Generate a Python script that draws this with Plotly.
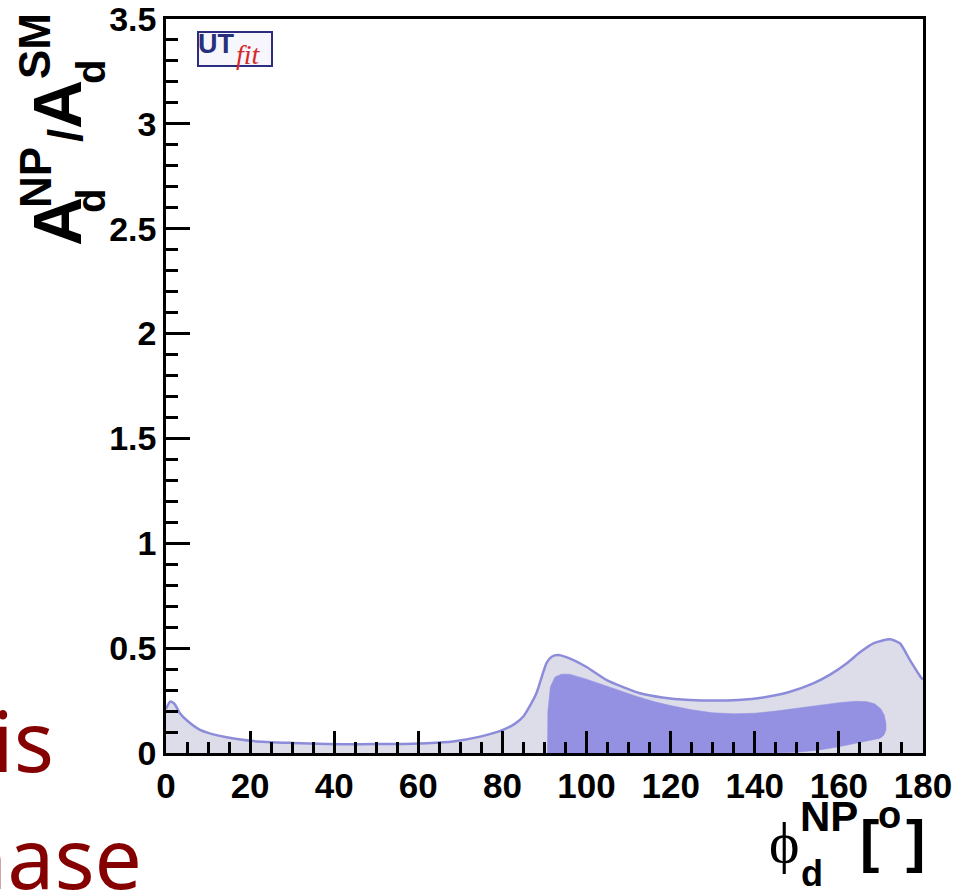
import plotly.graph_objects as go

# ---- data ----
light_phi = [0, 1, 2, 3.3, 5, 8.1, 11, 14.4, 20.7, 30, 38.2, 46, 54, 62, 68.2, 74.7,
             80.1, 83, 84.9, 86.5, 88.1, 90.5, 91.8, 93.3, 96.9, 100, 104.8, 112.7, 118,
             124.6, 130.1, 136, 142, 148, 153.9, 158, 161.9, 165, 168.2, 172.2, 174.5,
             176.9, 179.4, 180]
light_val = [0.21, 0.245, 0.235, 0.19, 0.155, 0.11, 0.09, 0.075, 0.057, 0.048, 0.043,
             0.042, 0.043, 0.047, 0.055, 0.078, 0.11, 0.14, 0.173, 0.224, 0.286, 0.43,
             0.46, 0.467, 0.443, 0.41, 0.348, 0.285, 0.265, 0.253, 0.25, 0.253, 0.265,
             0.29, 0.332, 0.375, 0.428, 0.48, 0.523, 0.542, 0.523, 0.443, 0.364, 0.35]

dark_top_phi = [90.7, 90.8, 91.4, 92.5, 94, 96, 100, 104, 108, 112, 116, 120, 125, 130,
                135, 140, 145, 150, 155, 160, 164, 166.5, 168.5, 170, 170.8, 171.2]
dark_top_val = [0.0, 0.2, 0.316, 0.362, 0.376, 0.376, 0.352, 0.325, 0.295, 0.27, 0.245,
                0.226, 0.206, 0.192, 0.187, 0.19, 0.2, 0.213, 0.228, 0.24, 0.247, 0.245,
                0.235, 0.21, 0.18, 0.14]
dark_bot_phi = [171.2, 170.7, 169.8, 165, 160, 155, 150, 145, 120, 95, 91.5, 90.7]
dark_bot_val = [0.11, 0.085, 0.07, 0.05, 0.03, 0.013, 0.004, 0.0, 0.0, 0.0, 0.0, 0.0]

x_ticks = [0, 20, 40, 60, 80, 100, 120, 140, 160, 180]
y_ticks = [0, 0.5, 1, 1.5, 2, 2.5, 3, 3.5]

# ---- layout geometry (pixels) ----
W, H = 957, 895
L, R, T, B = 166, 923, 19, 753


def fx(px):
    return px / W


def fy(py):
    return (H - py) / H


LIGHT_FILL = "rgb(221,221,233)"
LIGHT_LINE = "rgb(140,140,218)"
DARK_FILL = "rgb(148,144,226)"
SANS = "Liberation Sans, Arial, Helvetica, sans-serif"
SERIF = "Liberation Serif, Times New Roman, serif"
SLIDE_RED = "#850000"

fig = go.Figure()
fig.add_trace(go.Scatter(
    x=light_phi, y=light_val, mode="lines", fill="tozeroy",
    fillcolor=LIGHT_FILL, line=dict(color=LIGHT_LINE, width=2.5, shape="spline",
                                    smoothing=0.6),
    hoverinfo="skip", showlegend=False))
fig.add_trace(go.Scatter(
    x=dark_top_phi + dark_bot_phi, y=dark_top_val + dark_bot_val,
    mode="lines", fill="toself", fillcolor=DARK_FILL,
    line=dict(color=DARK_FILL, width=0.5), hoverinfo="skip", showlegend=False))

axis_common = dict(
    showgrid=False, zeroline=False, showline=True, linecolor="black", linewidth=2.5,
    mirror=True, ticks="inside", tickcolor="black", tickwidth=2.5, automargin=False,
    ticklabeloverflow="allow",
)
fig.update_xaxes(range=[0, 180], tickvals=x_ticks, ticklen=22,
                 domain=[L / W, R / W],
                 tickfont=dict(family=SANS, size=35, color="black", weight="bold"),
                 minor=dict(dtick=5, tick0=0, ticks="inside", ticklen=11,
                            tickwidth=2.5, tickcolor="black"),
                 **axis_common)
fig.update_yaxes(range=[0, 3.5], tickvals=y_ticks, ticklen=24,
                 domain=[(H - B) / H, (H - T) / H],
                 tickfont=dict(family=SANS, size=34, color="black", weight="bold"),
                 minor=dict(dtick=0.1, tick0=0, ticks="inside", ticklen=12,
                            tickwidth=2.5, tickcolor="black"),
                 **axis_common)

ann = []


def add_text(text, px, py, size, family=SANS, bold=True, angle=0, color="black",
             italic=False, xanchor="center", yanchor="middle"):
    ann.append(dict(
        text=text, x=fx(px), y=fy(py), xref="paper", yref="paper",
        showarrow=False, xanchor=xanchor, yanchor=yanchor, textangle=angle,
        borderpad=0,
        font=dict(family=family, size=size, color=color,
                  weight="bold" if bold else "normal",
                  style="italic" if italic else "normal")))


# y-axis title  A_d^NP / A_d^SM  (rotated)
add_text("A", 57, 222, 68, angle=-90)
add_text("d", 91, 201, 40, angle=-90)
add_text("NP", 35, 178, 44, angle=-90)
add_text("/", 66, 136, 48, angle=-90)
add_text("A", 57, 105, 68, angle=-90)
add_text("d", 91, 72, 40, angle=-90)
add_text("SM", 35, 46, 44, angle=-90)

# x-axis title  phi_d^NP [o]
add_text("ϕ", 784, 842, 58, family=SERIF, bold=False)
add_text("NP", 829, 816, 42)
add_text("d", 812, 895, 36, yanchor="bottom")
add_text("[", 869, 840, 58)
add_text("o", 889, 815, 38)
add_text("]", 915, 840, 58)

# UTfit logo
add_text("UT", 216, 44, 27, color="#27307a")
add_text("fit", 248, 55, 28, family=SERIF, bold=False, italic=True, color="#d42a2a")

shapes = [dict(type="rect", xref="paper", yref="paper",
               x0=fx(198), x1=fx(272), y0=fy(66), y1=fy(32),
               line=dict(color="#2c2c80", width=2), fillcolor="#f6f6fc", layer="below")]

# cropped slide text on the left (shape labels: partly outside the picture)
for txt, right_px, mid_py in [("is", 57, 745), ("phase", 145, 862)]:
    shapes.append(dict(
        type="rect", xref="paper", yref="paper",
        x0=-0.4, x1=fx(right_px), y0=fy(mid_py + 40), y1=fy(mid_py - 40),
        line=dict(width=0), fillcolor="rgba(0,0,0,0)",
        label=dict(text=txt, textposition="middle right", padding=0,
                   font=dict(family="Noto Sans", size=84, color=SLIDE_RED))))

fig.update_layout(
    width=W, height=H, autosize=False,
    margin=dict(l=0, r=0, t=0, b=0, pad=0),
    paper_bgcolor="white", plot_bgcolor="white",
    annotations=ann, shapes=shapes, showlegend=False,
)

fig.write_html("out.html")
